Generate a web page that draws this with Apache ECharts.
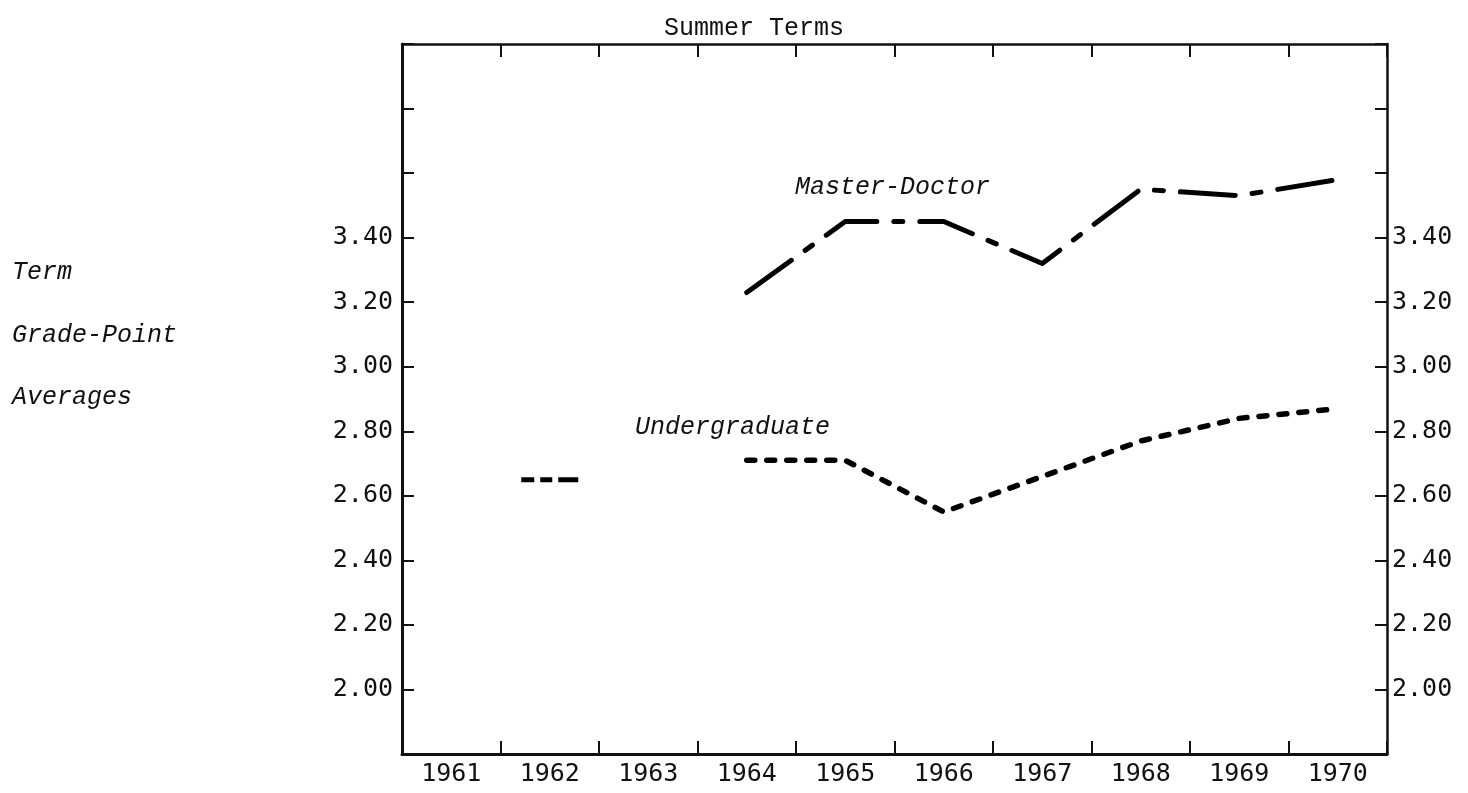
<!DOCTYPE html>
<html>
<head>
<meta charset="utf-8">
<title>Summer Terms</title>
<script src="https://cdn.jsdelivr.net/npm/echarts@6/dist/echarts.min.js"></script>
<style>
  html, body { margin: 0; padding: 0; background: #fff; }
  #chart { width: 1468px; height: 793px; }
</style>
</head>
<body>
<div id="chart"></div>
<script>
// values
const years = ['1961', '1962', '1963', '1964', '1965', '1966', '1967', '1968', '1969', '1970'];
const masterDoctor = [null, null, null, 3.23, 3.45, 3.45, 3.32, 3.55, 3.53, 3.58];
const undergraduate = [null, 2.65, null, 2.71, 2.71, 2.55, 2.66, 2.77, 2.84, 2.87];
const yMin = 1.8, yMax = 4.0, yStep = 0.2;
const labelFrom = 2.0, labelTo = 3.4;

const numFont = '"DejaVu Sans Mono", monospace';
const typeFont = '"Liberation Mono", "DejaVu Sans Mono", monospace';
const ink = '#111';

// a lone value has no neighbour to join, so it is drawn as a short dashed stroke
const loneDash = 'path://M0 0h13v5h-13zM19 0h12v5h-12zM37 0h20v5h-20z';
const withLoneDash = arr => arr.map((v, i) => {
    const lone = v != null && arr[i - 1] == null && arr[i + 1] == null;
    return lone ? { value: v, symbol: loneDash, symbolSize: [57, 5] } : v;
});

const yLabel = v => (v > labelFrom - 0.01 && v < labelTo + 0.01) ? v.toFixed(2) : '';

const chart = echarts.init(document.getElementById('chart'), null, { renderer: 'canvas' });

const xTick = { show: true, inside: true, interval: 0, alignWithLabel: false, length: 13, lineStyle: { color: ink, width: 2 } };

const option = {
    backgroundColor: '#fff',
    animation: false,
    grid: { left: 402, right: 81, top: 44, bottom: 39, containLabel: false },
    xAxis: [
        {
            type: 'category',
            data: years,
            position: 'bottom',
            boundaryGap: true,
            axisLine: { show: true, lineStyle: { color: ink, width: 3 } },
            axisTick: xTick,
            axisLabel: { color: ink, fontFamily: numFont, fontSize: 25, margin: 8, interval: 0 },
            splitLine: { show: false }
        },
        {
            type: 'category',
            data: years,
            position: 'top',
            boundaryGap: true,
            axisLine: { show: true, lineStyle: { color: ink, width: 2.5 } },
            axisTick: xTick,
            axisLabel: { show: false },
            splitLine: { show: false }
        }
    ],
    yAxis: [
        {
            type: 'value',
            position: 'left',
            min: yMin, max: yMax, interval: yStep,
            axisLine: { show: true, lineStyle: { color: ink, width: 3 } },
            axisTick: { show: true, inside: true, length: 12, lineStyle: { color: ink, width: 2 } },
            axisLabel: { color: ink, fontFamily: numFont, fontSize: 25, margin: 9, formatter: yLabel },
            splitLine: { show: false }
        },
        {
            type: 'value',
            position: 'right',
            min: yMin, max: yMax, interval: yStep,
            axisLine: { show: true, lineStyle: { color: ink, width: 2.5 } },
            axisTick: { show: true, inside: true, length: 12, lineStyle: { color: ink, width: 2 } },
            axisLabel: { color: ink, fontFamily: numFont, fontSize: 25, margin: 5, formatter: yLabel },
            splitLine: { show: false }
        }
    ],
    series: [
        {
            name: 'Master-Doctor',
            type: 'line',
            data: masterDoctor,
            symbol: 'none',
            connectNulls: false,
            lineStyle: { color: '#000', width: 5, type: [55, 17, 9, 17], cap: 'round', join: 'round' }
        },
        {
            name: 'Undergraduate',
            type: 'line',
            data: withLoneDash(undergraduate),
            symbol: 'none',
            showSymbol: true,
            connectNulls: false,
            itemStyle: { color: '#000' },
            lineStyle: { color: '#000', width: 5.5, type: [8, 12], cap: 'round', join: 'round' }
        }
    ],
    graphic: [
        { type: 'text', x: 754, y: 28, style: { text: 'Summer Terms', font: '25px ' + typeFont, fill: ink, align: 'center', verticalAlign: 'middle' } },
        { type: 'text', x: 12, y: 272, style: { text: 'Term', font: 'italic 25px ' + typeFont, fill: ink, verticalAlign: 'middle' } },
        { type: 'text', x: 12, y: 335, style: { text: 'Grade-Point', font: 'italic 25px ' + typeFont, fill: ink, verticalAlign: 'middle' } },
        { type: 'text', x: 12, y: 397, style: { text: 'Averages', font: 'italic 25px ' + typeFont, fill: ink, verticalAlign: 'middle' } },
        { type: 'text', x: 795, y: 187, style: { text: 'Master-Doctor', font: 'italic 25px ' + typeFont, fill: ink, verticalAlign: 'middle' } },
        { type: 'text', x: 635, y: 427, style: { text: 'Undergraduate', font: 'italic 25px ' + typeFont, fill: ink, verticalAlign: 'middle' } }
    ]
};

chart.setOption(option);
window.addEventListener('resize', chart.resize);
</script>
</body>
</html>
